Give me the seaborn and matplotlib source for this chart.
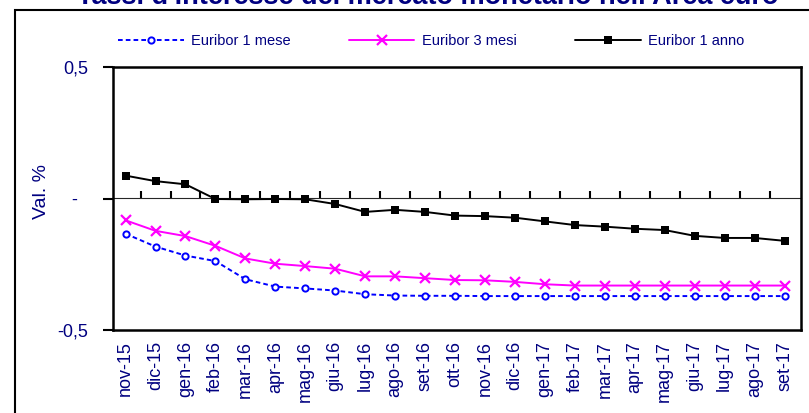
import matplotlib
matplotlib.use("Agg")
import matplotlib.pyplot as plt
from matplotlib.lines import Line2D
from matplotlib.patches import Rectangle
import seaborn as sns
import pandas as pd

# tassi Euribor medi mensili (val. %)
mesi = ['nov-15', 'dic-15', 'gen-16', 'feb-16', 'mar-16', 'apr-16', 'mag-16', 'giu-16',
        'lug-16', 'ago-16', 'set-16', 'ott-16', 'nov-16', 'dic-16', 'gen-17', 'feb-17',
        'mar-17', 'apr-17', 'mag-17', 'giu-17', 'lug-17', 'ago-17', 'set-17']
euribor_1m = [-0.134, -0.183, -0.217, -0.238, -0.307, -0.335, -0.342, -0.350, -0.364, -0.369,
              -0.370, -0.370, -0.371, -0.371, -0.371, -0.371, -0.371, -0.371, -0.371, -0.371,
              -0.371, -0.371, -0.371]
euribor_3m = [-0.083, -0.123, -0.143, -0.180, -0.228, -0.248, -0.257, -0.267, -0.296, -0.296,
              -0.303, -0.310, -0.311, -0.317, -0.326, -0.331, -0.331, -0.331, -0.331, -0.331,
              -0.331, -0.331, -0.331]
euribor_12m = [0.087, 0.066, 0.054, -0.002, -0.003, -0.002, -0.003, -0.021, -0.051, -0.043,
               -0.051, -0.065, -0.067, -0.073, -0.087, -0.101, -0.107, -0.115, -0.120, -0.142,
               -0.150, -0.150, -0.161]
y_ticks = [-0.5, 0, 0.5]
y_labels = ['-0,5', '-  ', '0,5']

df = pd.DataFrame({'mese': mesi, 'e1m': euribor_1m, 'e3m': euribor_3m, 'e12m': euribor_12m})

sns.set_style("white")
plt.rcParams['font.family'] = ['Liberation Sans', 'DejaVu Sans']
navy = '#000080'

W, H = 809, 413
fig = plt.figure(figsize=(W / 100, H / 100), dpi=100)
ax = fig.add_axes([113 / W, 1 - 330 / H, (801 - 113) / W, (330 - 67) / H])

# cornice esterna
fig.patches.append(Rectangle((14.5 / W, -0.1), 1.2, 1.1 - 10.5 / H, transform=fig.transFigure,
                             fill=False, edgecolor='black', linewidth=1.5))

stile_1m = dict(color='#0000FF', lw=1.4, linestyle=(0, (2.4, 1.6)), marker='o', markersize=4.5,
                markerfacecolor='white', markeredgecolor='#0000FF', markeredgewidth=1.4)
stile_3m = dict(color='#FF00FF', lw=1.4, marker='x', markersize=7, markeredgewidth=1.6,
                markeredgecolor='#FF00FF')
stile_12m = dict(color='black', lw=1.4, marker='s', markersize=6, markeredgewidth=0)

sns.lineplot(data=df, x='mese', y='e1m', ax=ax, sort=False, zorder=3, **stile_1m)
sns.lineplot(data=df, x='mese', y='e3m', ax=ax, sort=False, zorder=3, **stile_3m)
sns.lineplot(data=df, x='mese', y='e12m', ax=ax, sort=False, zorder=4, **stile_12m)

ax.set_xlim(-0.42, len(mesi) - 0.45)
ax.set_ylim(-0.5, 0.5)
ax.set_xticks(range(len(mesi)))
ax.set_xticklabels(mesi, rotation=90, color=navy, fontsize=13)
ax.tick_params(axis='x', length=0, pad=8)
ax.set_yticks(y_ticks)
ax.set_yticklabels(y_labels, color=navy, fontsize=13)
ax.tick_params(axis='y', direction='out', length=7, width=1.5, pad=11, left=True, color='black')
ax.set_xlabel('')
ax.set_ylabel('Val. %', color=navy, fontsize=14)
ax.yaxis.set_label_coords(-0.092, 0.525)
for s in ax.spines.values():
    s.set_color('black')
    s.set_linewidth(1.8)

# asse delle categorie sullo zero, tacche tra i mesi
zero_ax = ax.secondary_xaxis(0.5)
zero_ax.set_xticks([i + 0.5 for i in range(len(mesi) - 1)])
zero_ax.set_xticklabels([])
zero_ax.tick_params(direction='out', length=5, width=1.5, color='black')
zero_ax.spines['bottom'].set_linewidth(1.5)
zero_ax.spines['bottom'].set_color('black')

handles = [Line2D([], [], **stile_1m), Line2D([], [], **stile_3m), Line2D([], [], **stile_12m)]
fig.legend(handles, ['Euribor 1 mese', 'Euribor 3 mesi', 'Euribor 1 anno'], loc='center',
           bbox_to_anchor=(431 / W, 1 - 41 / H), ncol=3, frameon=False, fontsize=10.5,
           handlelength=4.5, handletextpad=0.5, columnspacing=4.0, labelcolor=navy)

fig.text(428 / W, 1 - 4.5 / H, "Tassi d'interesse del mercato monetario nell'Area euro",
         ha='center', va='baseline', fontsize=19.5, fontweight='bold', color=navy)

fig.savefig('out.png', dpi=100)
